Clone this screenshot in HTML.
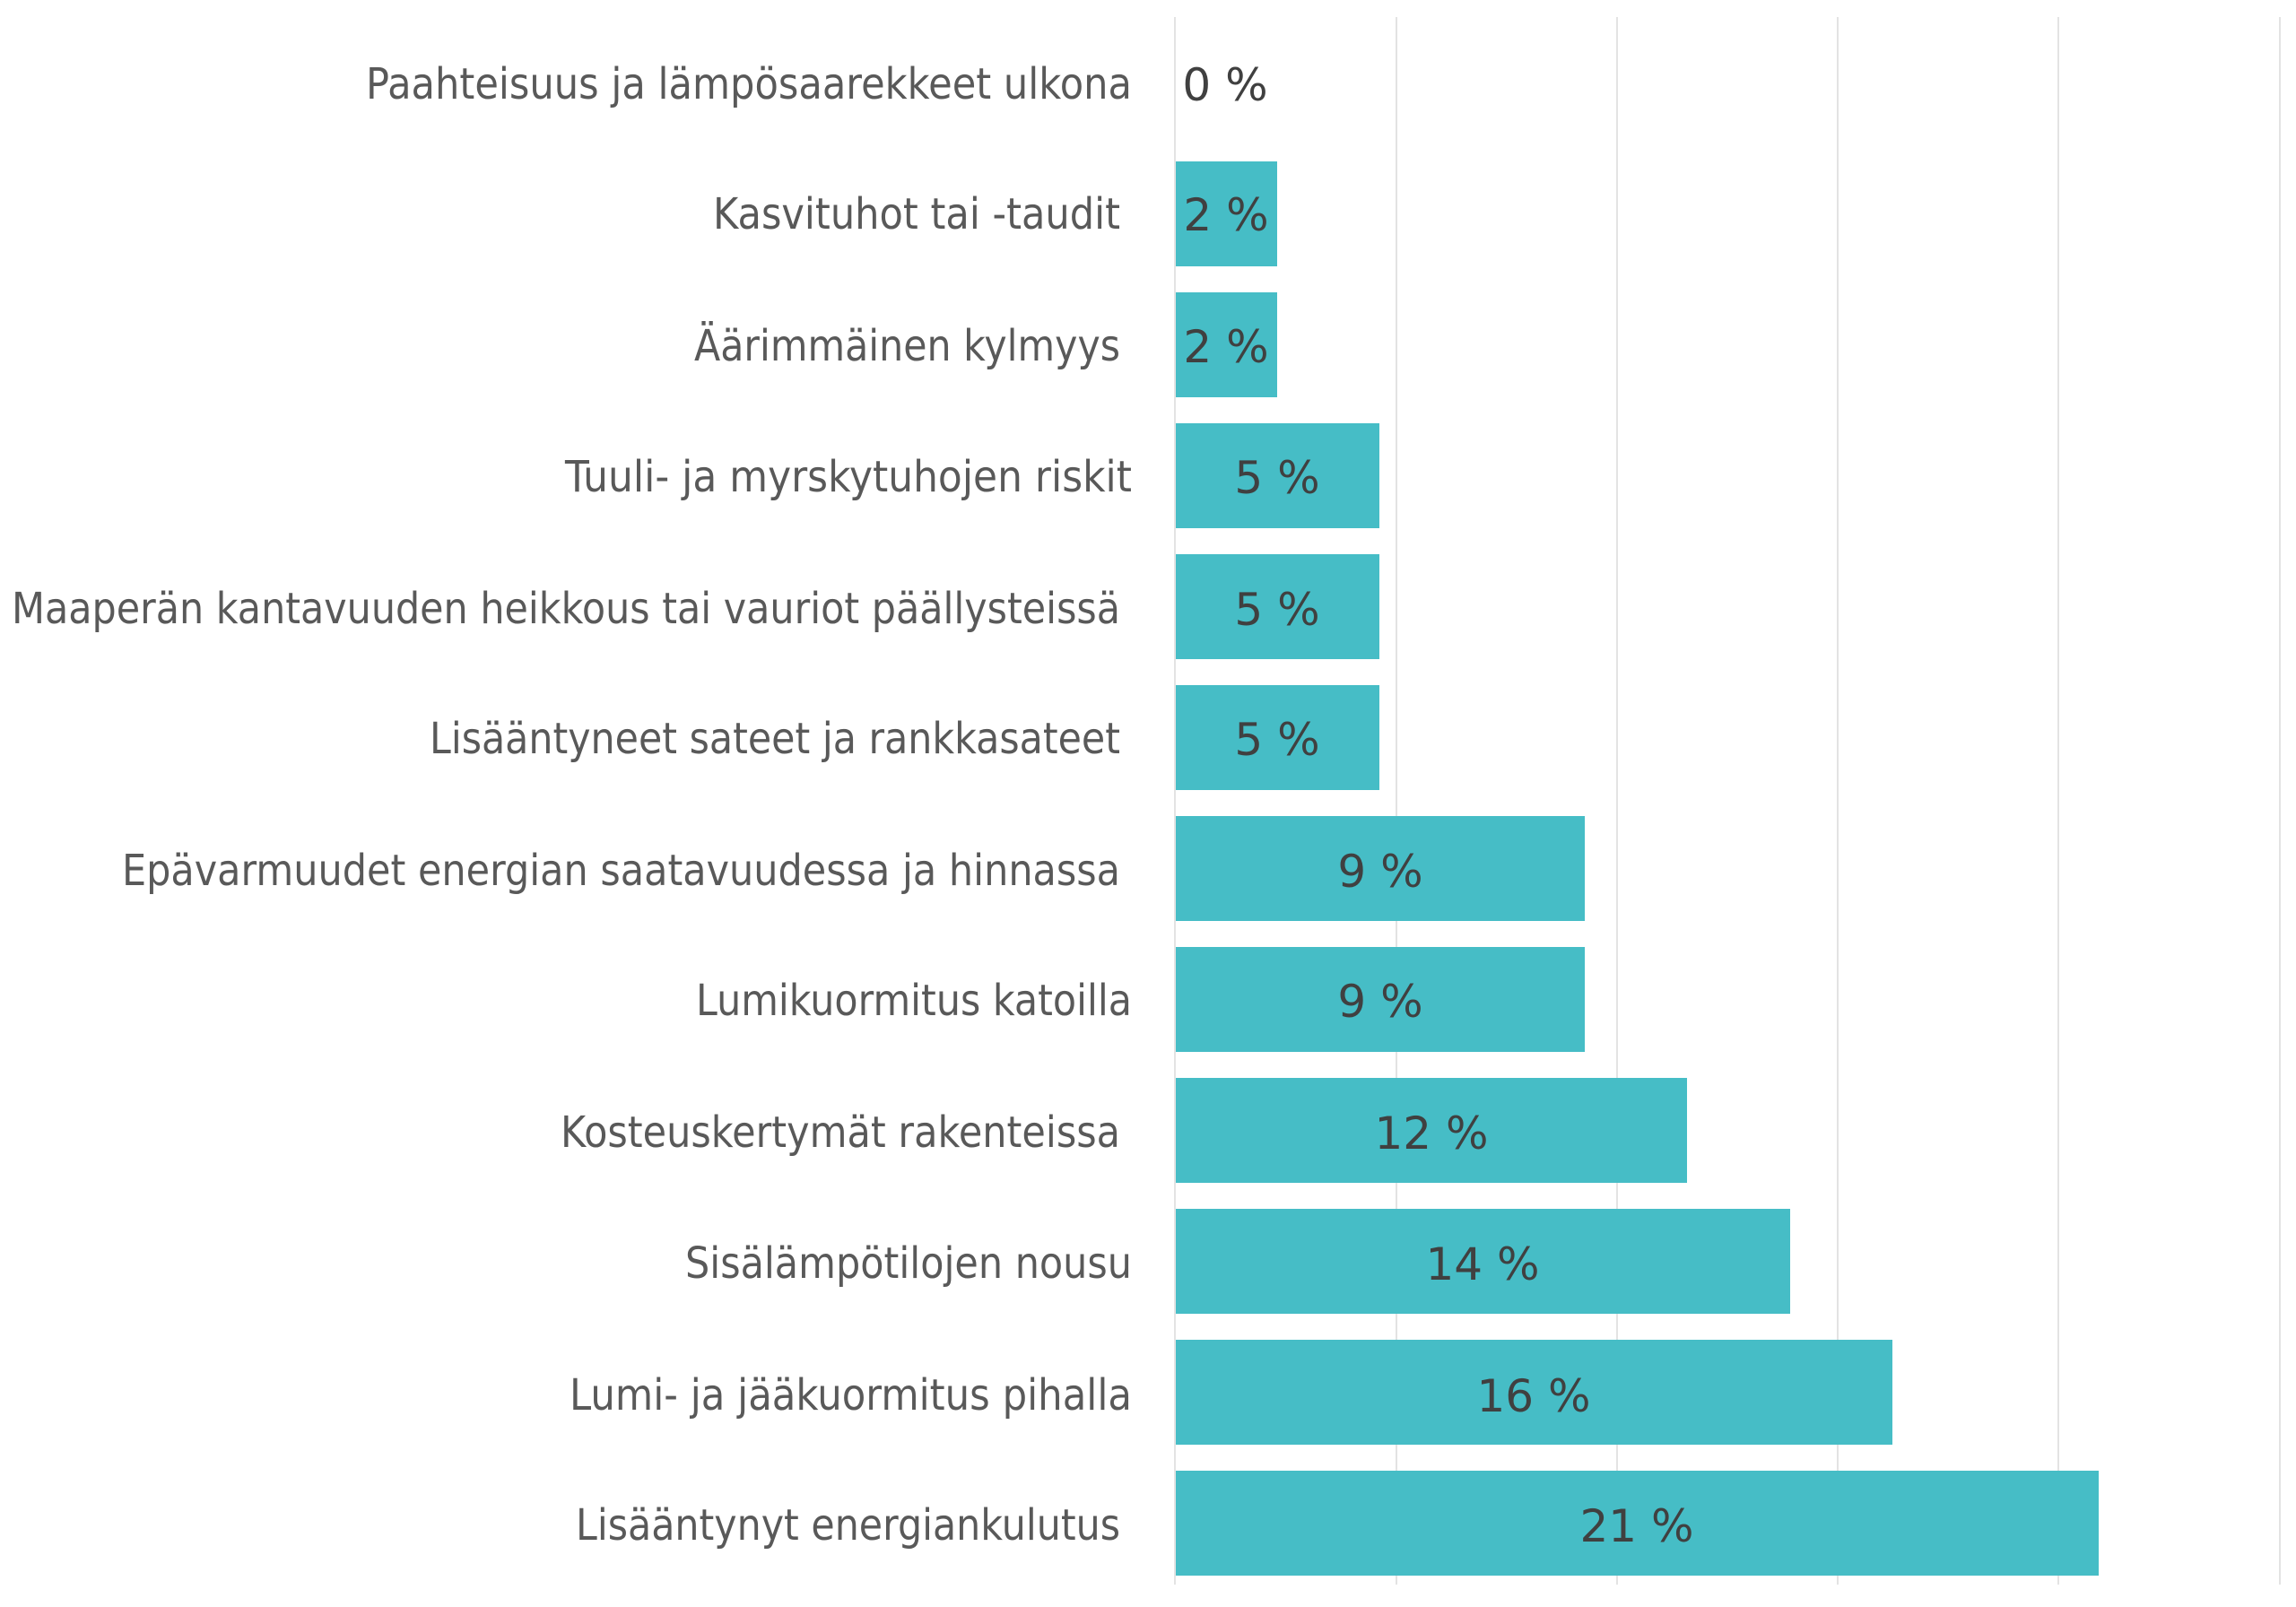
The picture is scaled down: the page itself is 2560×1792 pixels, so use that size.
<!DOCTYPE html>
<html><head><meta charset="utf-8"><style>html,body{margin:0;padding:0;background:#fff;}svg{display:block}</style></head>
<body>
<svg width="2560" height="1792" viewBox="0 0 2560 1792" xmlns="http://www.w3.org/2000/svg" font-family="'DejaVu Sans','Liberation Sans',sans-serif">
<g stroke="#e3e3e3" stroke-width="2">
<line x1="1310" y1="19" x2="1310" y2="1767"/>
<line x1="1557" y1="19" x2="1557" y2="1767"/>
<line x1="1803" y1="19" x2="1803" y2="1767"/>
<line x1="2049" y1="19" x2="2049" y2="1767"/>
<line x1="2295" y1="19" x2="2295" y2="1767"/>
<line x1="2542" y1="19" x2="2542" y2="1767"/>
</g>
<g fill="#46bdc6">
<rect x="1311" y="180" width="113" height="117"/>
<rect x="1311" y="326" width="113" height="117"/>
<rect x="1311" y="472" width="227" height="117"/>
<rect x="1311" y="618" width="227" height="117"/>
<rect x="1311" y="764" width="227" height="117"/>
<rect x="1311" y="910" width="456" height="117"/>
<rect x="1311" y="1056" width="456" height="117"/>
<rect x="1311" y="1202" width="570" height="117"/>
<rect x="1311" y="1348" width="685" height="117"/>
<rect x="1311" y="1494" width="799" height="117"/>
<rect x="1311" y="1640" width="1029" height="117"/>
</g>
<g fill="#595959" font-size="48" text-anchor="end">
<text x="1262" y="110" textLength="854" lengthAdjust="spacingAndGlyphs">Paahteisuus ja lämpösaarekkeet ulkona</text>
<text x="1249" y="255" textLength="454" lengthAdjust="spacingAndGlyphs">Kasvituhot tai -taudit</text>
<text x="1249" y="402" textLength="475" lengthAdjust="spacingAndGlyphs">Äärimmäinen kylmyys</text>
<text x="1262" y="548" textLength="632" lengthAdjust="spacingAndGlyphs">Tuuli- ja myrskytuhojen riskit</text>
<text x="1249" y="695" textLength="1236" lengthAdjust="spacingAndGlyphs">Maaperän kantavuuden heikkous tai vauriot päällysteissä</text>
<text x="1249" y="840" textLength="770" lengthAdjust="spacingAndGlyphs">Lisääntyneet sateet ja rankkasateet</text>
<text x="1249" y="987" textLength="1113" lengthAdjust="spacingAndGlyphs">Epävarmuudet energian saatavuudessa ja hinnassa</text>
<text x="1262" y="1132" textLength="486" lengthAdjust="spacingAndGlyphs">Lumikuormitus katoilla</text>
<text x="1249" y="1279" textLength="624" lengthAdjust="spacingAndGlyphs">Kosteuskertymät rakenteissa</text>
<text x="1262" y="1425" textLength="498" lengthAdjust="spacingAndGlyphs">Sisälämpötilojen nousu</text>
<text x="1262" y="1572" textLength="627" lengthAdjust="spacingAndGlyphs">Lumi- ja jääkuormitus pihalla</text>
<text x="1249" y="1717" textLength="607" lengthAdjust="spacingAndGlyphs">Lisääntynyt energiankulutus</text>
</g>
<g fill="#404040" font-size="50" text-anchor="middle">
<text x="1366" y="112">0 %</text>
<text x="1367" y="257">2 %</text>
<text x="1367" y="404">2 %</text>
<text x="1424" y="550">5 %</text>
<text x="1424" y="697">5 %</text>
<text x="1424" y="842">5 %</text>
<text x="1539" y="989">9 %</text>
<text x="1539" y="1134">9 %</text>
<text x="1596" y="1281">12 %</text>
<text x="1653" y="1427">14 %</text>
<text x="1710" y="1574">16 %</text>
<text x="1825" y="1719">21 %</text>
</g>
</svg>
</body></html>
